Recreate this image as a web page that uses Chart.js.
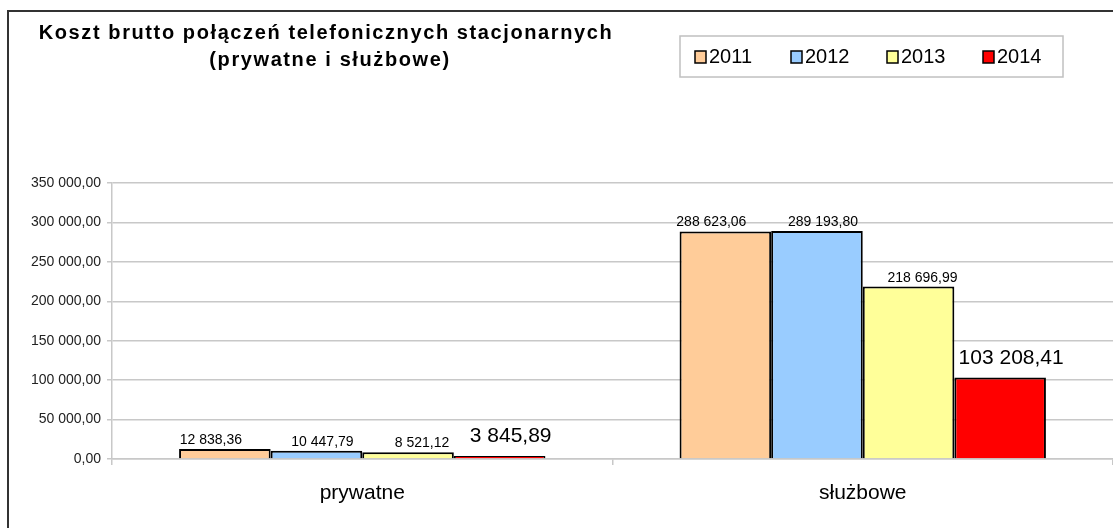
<!DOCTYPE html>
<html>
<head>
<meta charset="utf-8">
<script src="https://cdn.jsdelivr.net/npm/chart.js@4.4.1/dist/chart.umd.min.js"></script>
<style>
  html, body { margin: 0; padding: 0; background: #fff; }
  #wrap { position: relative; width: 1113px; height: 528px; overflow: hidden; }
  #frame { position: absolute; left: 7px; top: 10px; width: 1200px; height: 600px;
           border-left: 2px solid #333; border-top: 2px solid #333; }
  canvas { position: absolute; left: 0; top: 0; }
</style>
</head>
<body>
<div id="wrap">
  <div id="frame"></div>
  <canvas id="costChart" width="1113" height="528"></canvas>
</div>
<script>
const categories = ["prywatne", "służbowe"];
const years = ["2011", "2012", "2013", "2014"];
const values2011 = [12838.36, 288623.06];
const values2012 = [10447.79, 289193.80];
const values2013 = [8521.12, 218696.99];
const values2014 = [3845.89, 103208.41];
const yTicks = [0, 50000, 100000, 150000, 200000, 250000, 300000, 350000];
const titleLines = ["Koszt brutto połączeń telefonicznych stacjonarnych", "(prywatne i służbowe)"];

const colors = ["#FFCC99", "#99CCFF", "#FFFF99", "#FF0000"];
const FONT = "'Liberation Sans', Arial, sans-serif";

function formatPl(value) {
  const parts = value.toFixed(2).split(".");
  const whole = parts[0].replace(/\B(?=(\d{3})+(?!\d))/g, " ");
  return whole + "," + parts[1];
}

// title + boxed legend in the top-left / top-right
const headerPlugin = {
  id: "header",
  afterDraw(chart) {
    const ctx = chart.ctx;
    ctx.save();
    ctx.fillStyle = "#000";
    ctx.textAlign = "center";
    ctx.textBaseline = "middle";
    ctx.font = "bold 20px " + FONT;
    ctx.letterSpacing = "1.6px";
    ctx.fillText(titleLines[0], 326, 33);
    ctx.fillText(titleLines[1], 330, 60);
    ctx.letterSpacing = "0px";

    // legend box
    ctx.strokeStyle = "#c0c0c0";
    ctx.lineWidth = 1.5;
    ctx.strokeRect(680, 36, 383, 41);
    ctx.font = "20px " + FONT;
    ctx.textAlign = "left";
    chart.data.datasets.forEach((ds, i) => {
      const x = 695 + i * 96;
      ctx.fillStyle = ds.backgroundColor;
      ctx.fillRect(x, 51, 11, 12);
      ctx.strokeStyle = "#000";
      ctx.lineWidth = 1.5;
      ctx.strokeRect(x, 51, 11, 12);
      ctx.fillStyle = "#000";
      ctx.fillText(ds.label, x + 14, 57);
    });
    ctx.restore();
  }
};

// value labels above bars
const valueLabels = {
  id: "valueLabels",
  afterDatasetsDraw(chart) {
    const ctx = chart.ctx;
    const shift = [-14, 6, 14, 11];
    ctx.save();
    ctx.fillStyle = "#000";
    ctx.textAlign = "center";
    ctx.textBaseline = "alphabetic";
    chart.data.datasets.forEach((ds, i) => {
      const meta = chart.getDatasetMeta(i);
      const big = i === 3;
      ctx.font = (big ? "21px " : "14px ") + FONT;
      meta.data.forEach((bar, j) => {
        ctx.fillText(formatPl(ds.data[j]), bar.x + shift[i], bar.y - (big ? 14 : 5));
      });
    });
    ctx.restore();
  }
};

const seriesValues = [values2011, values2012, values2013, values2014];

new Chart(document.getElementById("costChart"), {
  type: "bar",
  data: {
    labels: categories,
    datasets: years.map((year, i) => ({
      label: year,
      data: seriesValues[i],
      backgroundColor: colors[i],
      borderColor: "#000",
      borderWidth: 2,
      barPercentage: 1,
      categoryPercentage: 0.732
    }))
  },
  options: {
    responsive: false,
    animation: false,
    layout: { padding: { top: 183, left: 0, right: 0, bottom: 0 } },
    plugins: {
      legend: { display: false },
      title: { display: false },
      tooltip: { enabled: false }
    },
    scales: {
      x: {
        offset: true,
        grid: { offset: true, drawOnChartArea: false, tickLength: 6, color: "#c8c8c8", lineWidth: 1.5 },
        border: { color: "#c8c8c8", width: 1.5 },
        ticks: { color: "#000", font: { size: 21, family: FONT }, padding: 16 },
        afterFit(scale) { scale.height = 69; }
      },
      y: {
        min: 0,
        max: 350000,
        afterBuildTicks(scale) { scale.ticks = yTicks.map(v => ({ value: v })); },
        ticks: {
          color: "#222",
          font: { size: 14, family: FONT },
          padding: 6,
          callback: v => formatPl(v)
        },
        grid: { color: "#c8c8c8", lineWidth: 1.5, tickLength: 5 },
        border: { color: "#c8c8c8", width: 1.5 },
        afterFit(scale) { scale.width = 112; }
      }
    }
  },
  plugins: [headerPlugin, valueLabels]
});
</script>
</body>
</html>
